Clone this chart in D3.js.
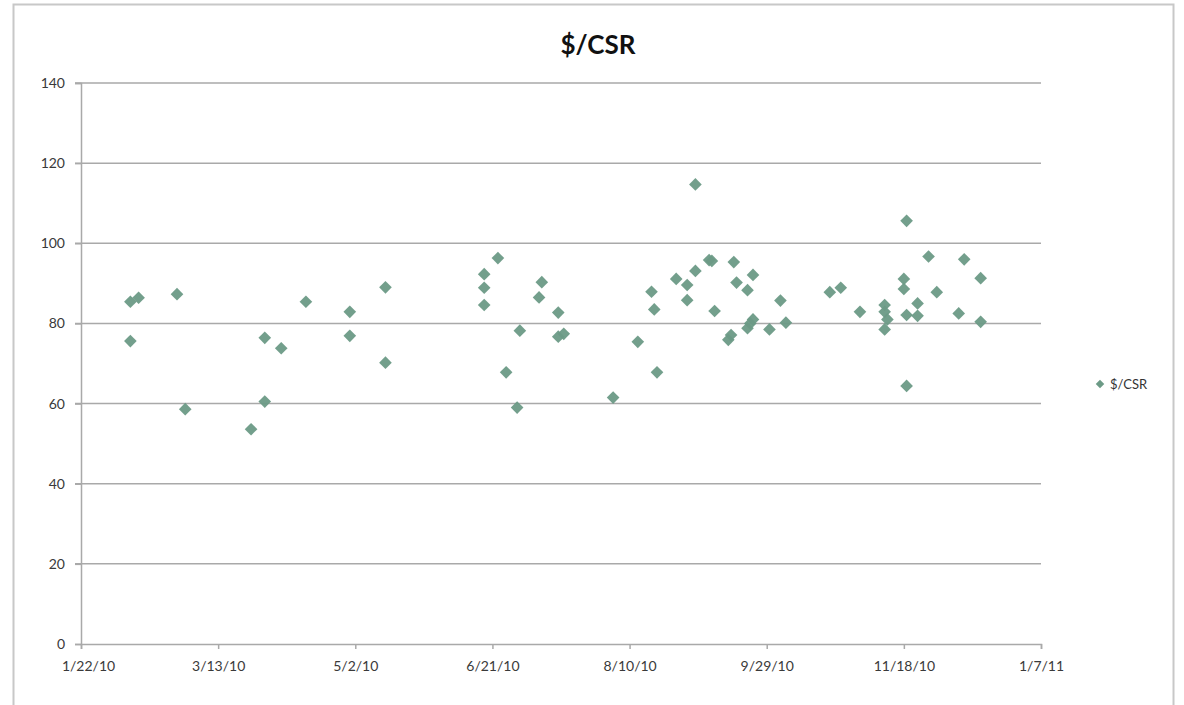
<!DOCTYPE html>
<html>
<head>
<meta charset="utf-8">
<script src="https://cdn.jsdelivr.net/npm/d3@7"></script>
<style>
  body { margin: 0; background: #fff; }
  text { font-family: Lato, "Open Sans", sans-serif; }
</style>
</head>
<body>
<svg id="chart" width="1184" height="705"></svg>
<script>
// $/CSR readings by date
const dates = [
  "2010-02-09", "2010-02-12", "2010-02-09", "2010-02-26", "2010-03-01",
  "2010-03-25", "2010-03-30", "2010-03-30", "2010-04-05", "2010-04-14",
  "2010-04-30", "2010-04-30", "2010-05-13", "2010-05-13", "2010-06-18",
  "2010-06-18", "2010-06-18", "2010-06-23", "2010-06-26", "2010-06-30",
  "2010-07-01", "2010-07-08", "2010-07-09", "2010-07-15", "2010-07-15",
  "2010-07-17", "2010-08-04", "2010-08-13", "2010-08-18", "2010-08-19",
  "2010-08-20", "2010-08-27", "2010-08-31", "2010-08-31", "2010-09-03",
  "2010-09-03", "2010-09-08", "2010-09-09", "2010-09-10", "2010-09-15",
  "2010-09-16", "2010-09-17", "2010-09-18", "2010-09-22", "2010-09-24",
  "2010-09-22", "2010-09-23", "2010-09-24", "2010-09-30", "2010-10-04",
  "2010-10-06", "2010-10-22", "2010-10-26", "2010-11-02", "2010-11-11",
  "2010-11-11", "2010-11-12", "2010-11-11", "2010-11-18", "2010-11-18",
  "2010-11-19", "2010-11-19", "2010-11-19", "2010-11-23", "2010-11-23",
  "2010-11-27", "2010-11-30", "2010-12-08", "2010-12-10", "2010-12-16",
  "2010-12-16"
];
const values = [
  85.4, 86.4, 75.6, 87.3, 58.6,
  53.6, 76.4, 60.5, 73.8, 85.4,
  82.9, 76.9, 89.0, 70.2, 92.3,
  88.9, 84.6, 96.3, 67.8, 59.0,
  78.2, 86.5, 90.3, 82.7, 76.7,
  77.4, 61.5, 75.4, 87.9, 83.5,
  67.8, 91.1, 89.6, 85.8, 93.1,
  114.7, 95.8, 95.6, 83.1, 75.9,
  77.1, 95.3, 90.2, 88.3, 92.1,
  78.8, 80.0, 81.0, 78.5, 85.7,
  80.2, 87.8, 88.9, 82.9, 84.6,
  82.9, 81.0, 78.5, 91.1, 88.6,
  105.6, 82.1, 64.4, 85.0, 81.9,
  96.7, 87.8, 82.5, 96.0, 91.3,
  80.4
];

const xTickDates = ["2010-01-22", "2010-03-13", "2010-05-02", "2010-06-21",
                    "2010-08-10", "2010-09-29", "2010-11-18", "2011-01-07"];
const yTicks = [0, 20, 40, 60, 80, 100, 120, 140];
const seriesName = "$/CSR";

const parse = d3.utcParse("%Y-%m-%d");
const fmt = d3.utcFormat("%-m/%-d/%y");
const points = dates.map((d, i) => ({ date: parse(d), value: values[i] }));

const svg = d3.select("#chart");
const plot = { left: 81, right: 1041, top: 83, bottom: 644 };
const markerColor = "#6c9a86";
const gridColor = "#a9a9a9";

// chart frame
svg.append("rect")
  .attr("x", 13.5).attr("y", 4.5)
  .attr("width", 1160).attr("height", 710)
  .attr("fill", "#fff").attr("stroke", "#c8c8c8").attr("stroke-width", 2);

const x = d3.scaleUtc()
  .domain([parse(xTickDates[0]), parse(xTickDates[xTickDates.length - 1])])
  .range([plot.left, plot.right]);
const y = d3.scaleLinear().domain([0, 140]).range([plot.bottom, plot.top]);

// horizontal gridlines
svg.append("g")
  .selectAll("line")
  .data(yTicks.filter(t => t > 0))
  .enter().append("line")
  .attr("x1", plot.left - 6).attr("x2", plot.right)
  .attr("y1", d => y(d)).attr("y2", d => y(d))
  .attr("stroke", gridColor).attr("stroke-width", 1.5);

// y axis
const yAxis = svg.append("g")
  .attr("transform", `translate(${plot.left},0)`)
  .call(d3.axisLeft(y).tickValues(yTicks).tickSize(6).tickPadding(10));
yAxis.select(".domain").attr("stroke", gridColor).attr("stroke-width", 1.5);
yAxis.selectAll(".tick line").attr("stroke", gridColor).attr("stroke-width", 1.5);
yAxis.selectAll(".tick text").attr("fill", "#3a3a3a").style("font-size", "14px");

// x axis
const xAxis = svg.append("g")
  .attr("transform", `translate(0,${plot.bottom})`)
  .call(d3.axisBottom(x).tickValues(xTickDates.map(parse)).tickFormat(fmt)
    .tickSize(5).tickPadding(12));
xAxis.select(".domain").attr("stroke", gridColor).attr("stroke-width", 1.5);
xAxis.selectAll(".tick line").attr("stroke", gridColor).attr("stroke-width", 1.5);
xAxis.selectAll(".tick text").attr("fill", "#3a3a3a").style("font-size", "14px");
xAxis.select(".tick text").attr("dx", 7);

// markers
const diamond = d3.symbol().type(d3.symbolSquare).size(80);
svg.append("g")
  .selectAll("path")
  .data(points)
  .enter().append("path")
  .attr("d", diamond)
  .attr("transform", d => `translate(${x(d.date)},${y(d.value)}) rotate(45)`)
  .attr("fill", markerColor)
  .attr("fill-opacity", 0.95);

// title
svg.append("text")
  .attr("x", 598).attr("y", 54)
  .attr("text-anchor", "middle")
  .style("font-size", "26px").style("font-weight", "bold")
  .attr("fill", "#111")
  .text(seriesName);

// legend
const legend = svg.append("g").attr("transform", "translate(1100,384)");
legend.append("path")
  .attr("d", d3.symbol().type(d3.symbolSquare).size(36))
  .attr("transform", "rotate(45)")
  .attr("fill", markerColor);
legend.append("text")
  .attr("x", 10).attr("y", 5)
  .attr("fill", "#333")
  .style("font-size", "13px")
  .text(seriesName);
</script>
</body>
</html>
